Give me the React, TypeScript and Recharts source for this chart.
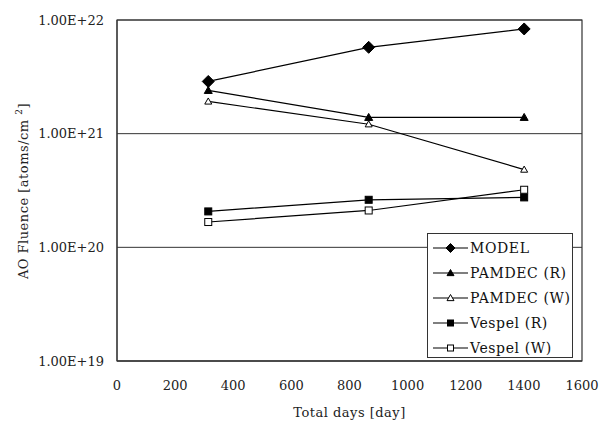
import { CartesianGrid, Legend, Line, LineChart, ReferenceArea, XAxis, YAxis } from "recharts";

const FONT = "'DejaVu Serif', serif";
const INK = "#222";

// sampling days and fluence values per material
const days = [314, 866, 1401];
const model = [2.88e21, 5.75e21, 8.34e21];
const pamdecR = [2.4e21, 1.39e21, 1.39e21];
const pamdecW = [1.92e21, 1.21e21, 4.83e20];
const vespelR = [2.07e20, 2.62e20, 2.75e20];
const vespelW = [1.67e20, 2.11e20, 3.21e20];

const xTicks = [0, 200, 400, 600, 800, 1000, 1200, 1400, 1600];
const yTicks = [1e19, 1e20, 1e21, 1e22];
const minorSteps = [2, 3, 4, 5, 6, 7, 8, 9];
const yMinorTicks = [1e19, 1e20, 1e21].flatMap((d) => minorSteps.map((m) => m * d));

const data = days.map((day, i) => ({
  day,
  model: model[i],
  pamdecR: pamdecR[i],
  pamdecW: pamdecW[i],
  vespelR: vespelR[i],
  vespelW: vespelW[i],
}));

type Shape = "diamond" | "triangle" | "square";

const series: { key: string; name: string; shape: Shape; filled: boolean; size: number; legendSize: number }[] = [
  { key: "model", name: "MODEL", shape: "diamond", filled: true, size: 12, legendSize: 9 },
  { key: "pamdecR", name: "PAMDEC (R)", shape: "triangle", filled: true, size: 8, legendSize: 7 },
  { key: "pamdecW", name: "PAMDEC (W)", shape: "triangle", filled: false, size: 7, legendSize: 7 },
  { key: "vespelR", name: "Vespel (R)", shape: "square", filled: true, size: 7, legendSize: 6 },
  { key: "vespelW", name: "Vespel (W)", shape: "square", filled: false, size: 7, legendSize: 6 },
];

function Marker({ cx, cy, shape, filled, size }: { cx: number; cy: number; shape: Shape; filled: boolean; size: number }) {
  const fill = filled ? "#000" : "#fff";
  const r = size / 2;
  if (shape === "diamond") {
    return (
      <polygon
        points={`${cx},${cy - r} ${cx + r},${cy} ${cx},${cy + r} ${cx - r},${cy}`}
        fill={fill}
        stroke="#000"
        strokeWidth={1}
      />
    );
  }
  if (shape === "triangle") {
    return (
      <polygon
        points={`${cx},${cy - r} ${cx + r},${cy + r * 0.75} ${cx - r},${cy + r * 0.75}`}
        fill={fill}
        stroke="#000"
        strokeWidth={1}
      />
    );
  }
  return <rect x={cx - r} y={cy - r} width={size} height={size} fill={fill} stroke="#000" strokeWidth={1} />;
}

function LegendBox() {
  return (
    <div
      style={{
        width: 146,
        height: 125,
        boxSizing: "border-box",
        border: "1px solid #333",
        background: "#fff",
        paddingTop: 1,
        fontFamily: FONT,
        fontSize: 14,
        color: "#111",
      }}
    >
      {series.map((s) => (
        <div key={s.key} style={{ display: "flex", alignItems: "center", height: 25 }}>
          <svg width={37} height={14} style={{ marginLeft: 5, flex: "none" }}>
            <line x1={0} y1={7} x2={35} y2={7} stroke="#000" strokeWidth={1.2} />
            <Marker cx={17.5} cy={7} shape={s.shape} filled={s.filled} size={s.legendSize} />
          </svg>
          <span style={{ lineHeight: 1, letterSpacing: 0.6 }}>{s.name}</span>
        </div>
      ))}
    </div>
  );
}

function YTitle() {
  return (
    <text
      x={28}
      y={191}
      transform="rotate(-90 28 191)"
      textAnchor="middle"
      fontFamily={FONT}
      fontSize={13}
      letterSpacing={0.5}
      fill={INK}
    >
      AO Fluence [atoms/cm{" "}
      <tspan fontSize={9} dy={-6}>
        2
      </tspan>
      <tspan dy={6}>]</tspan>
    </text>
  );
}

function XTitle({ viewBox }: any) {
  const { x, y, width } = viewBox;
  return (
    <text
      x={x + width / 2}
      y={y + 56}
      textAnchor="middle"
      fontFamily={FONT}
      fontSize={13}
      letterSpacing={0.5}
      fill={INK}
    >
      Total days [day]
    </text>
  );
}

export default function App() {
  return (
    <div style={{ position: "absolute", left: 0, top: 0, width: 609, height: 421, background: "#fff" }}>
      <LineChart width={609} height={421} data={data} margin={{ top: 20, right: 27, bottom: 0, left: 0 }}>
        <CartesianGrid vertical={false} stroke="#333" strokeWidth={1} />
        <XAxis
          dataKey="day"
          type="number"
          domain={[0, 1600]}
          ticks={xTicks}
          height={60}
          tickSize={0}
          tickMargin={20}
          tickLine={false}
          axisLine={{ stroke: "#333" }}
          tick={{ fontFamily: FONT, fontSize: 13, fill: INK }}
          label={<XTitle />}
        />
        <XAxis
          xAxisId="inner"
          type="number"
          domain={[0, 1600]}
          ticks={xTicks}
          mirror
          height={0}
          tickSize={5}
          axisLine={false}
          tickLine={{ stroke: "#333" }}
          tickFormatter={() => ""}
        />
        <YAxis
          type="number"
          scale="log"
          domain={[1e19, 1e22]}
          allowDataOverflow
          ticks={yTicks}
          width={117}
          tickSize={0}
          tickMargin={13}
          tickLine={false}
          axisLine={{ stroke: "#333" }}
          tickFormatter={(v: number) => v.toExponential(2).toUpperCase()}
          tick={{ fontFamily: FONT, fontSize: 13, fill: INK }}
          label={<YTitle />}
        />
        <YAxis
          yAxisId="minor"
          type="number"
          scale="log"
          domain={[1e19, 1e22]}
          allowDataOverflow
          ticks={yMinorTicks}
          mirror
          width={0}
          tickSize={4}
          axisLine={false}
          tickLine={{ stroke: "#333" }}
          tickFormatter={() => ""}
        />
        <ReferenceArea x1={0} x2={1600} y1={1e19} y2={1e22} fill="none" stroke="#333" strokeWidth={1.2} />
        {series.map((s) => (
          <Line
            key={s.key}
            dataKey={s.key}
            name={s.name}
            stroke="#000"
            strokeWidth={1.2}
            isAnimationActive={false}
            dot={(p: any) => (
              <Marker key={`${s.key}-${p.index}`} cx={p.cx} cy={p.cy} shape={s.shape} filled={s.filled} size={s.size} />
            )}
            activeDot={false}
          />
        ))}
        <Legend
          layout="horizontal"
          verticalAlign="middle"
          align="center"
          wrapperStyle={{ left: 427, top: 233, width: 146, height: 125 }}
          content={() => <LegendBox />}
        />
      </LineChart>
    </div>
  );
}
